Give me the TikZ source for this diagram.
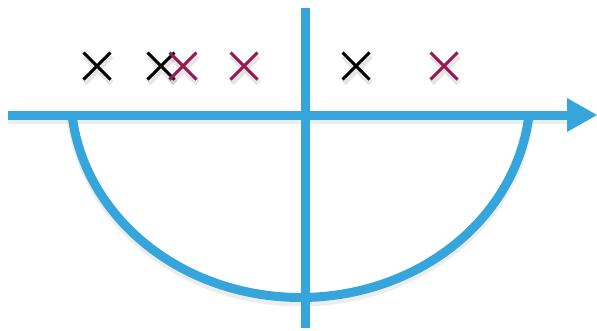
\documentclass[tikz,border=0pt]{standalone}
\usetikzlibrary{calc}
\definecolor{axisblue}{HTML}{35A5DB}
\definecolor{polepurple}{HTML}{9A1852}
\tikzset{
  axisline/.style={draw=axisblue, line width=9pt},
  crossline/.style={line width=3pt},
  shadowline/.style={draw=black, opacity=0.10, line width=6pt},
  pics/xmark/.style={code={
    \draw[shadowline] (-12.5,-10) -- (14.5,17) (-12.5,17) -- (14.5,-10);
    \draw[crossline,draw=#1] (-13.5,-13.5) -- (13.5,13.5) (-13.5,13.5) -- (13.5,-13.5);
  }}
}
\begin{document}
\begin{tikzpicture}[x=1pt,y=-1pt]
\useasboundingbox (0,0) rectangle (597,330);
\coordinate (L) at (8,115);
\coordinate (R) at (570,115);
\coordinate (T) at (305,8);
\coordinate (B) at (305,328);
% faint shadows
\draw[draw=black, opacity=0.07, line width=10pt] ($(L)+(0,4)$) -- ($(R)+(0,4)$);
\draw[draw=black, opacity=0.07, line width=10pt, smooth, samples=90]
  plot[domain=186.18:353.82] ({300.5+229.8*cos(\x)}, {97-204.5*sin(\x)});
% curve
\draw[axisline, smooth, samples=90]
  plot[domain=186.18:353.82] ({300.5+229.8*cos(\x)}, {93-204.5*sin(\x)});
% axes
\draw[axisline] (L) -- (R);
\fill[axisblue] (567,98) -- (597,115) -- (567,132) -- cycle;
\draw[axisline] (T) -- (B);
% poles
\pic at (97,66) {xmark=black};
\pic at (161,66) {xmark=black};
\pic at (183,66) {xmark=polepurple};
\pic at (244,66) {xmark=polepurple};
\pic at (356,66) {xmark=black};
\pic at (444,66) {xmark=polepurple};
\end{tikzpicture}
\end{document}
